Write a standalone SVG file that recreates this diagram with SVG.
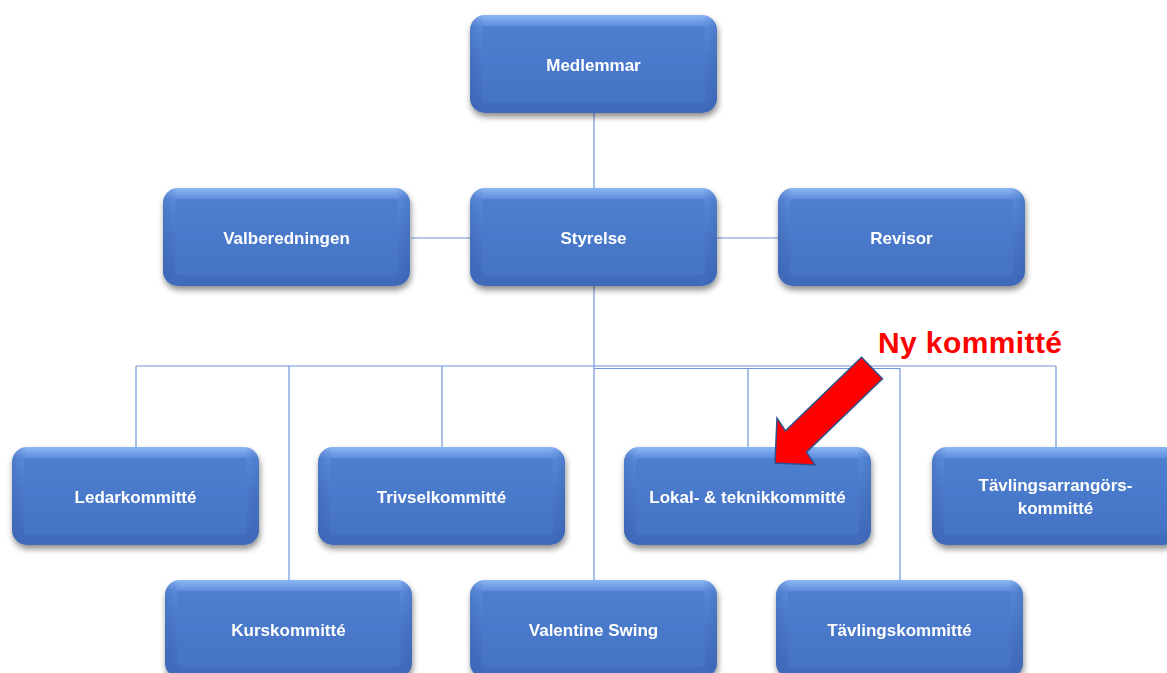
<svg xmlns="http://www.w3.org/2000/svg" width="1167" height="673" viewBox="0 0 1167 673">
<defs>
<linearGradient id="outerG" x1="0" y1="0" x2="0" y2="1">
<stop offset="0" stop-color="#8cb6f5"/>
<stop offset="0.12" stop-color="#5a8bdb"/>
<stop offset="0.5" stop-color="#4a78c9"/>
<stop offset="1" stop-color="#3f6ab9"/>
</linearGradient>
<linearGradient id="innerG" x1="0" y1="0" x2="0" y2="1">
<stop offset="0" stop-color="#4e7fcf"/>
<stop offset="1" stop-color="#4573c5"/>
</linearGradient>
<linearGradient id="sideG" x1="0" y1="0" x2="1" y2="0">
<stop offset="0" stop-color="#3a64b0" stop-opacity="0.4"/>
<stop offset="0.06" stop-color="#3a64b0" stop-opacity="0"/>
<stop offset="0.94" stop-color="#3a64b0" stop-opacity="0"/>
<stop offset="1" stop-color="#3a64b0" stop-opacity="0.4"/>
</linearGradient>
<filter id="sh" x="-10%" y="-10%" width="125%" height="130%">
<feGaussianBlur in="SourceAlpha" stdDeviation="3"/>
<feOffset dx="1" dy="4" result="b"/>
<feComponentTransfer><feFuncA type="linear" slope="0.45"/></feComponentTransfer>
<feMerge><feMergeNode/><feMergeNode in="SourceGraphic"/></feMerge>
</filter>
</defs>
<style>
.outer{fill:url(#outerG);}
.side{fill:url(#sideG);}
.inner{fill:url(#innerG);}
.lbl{font-family:"Liberation Sans",Arial,sans-serif;font-weight:bold;font-size:17px;fill:#ffffff;text-anchor:middle;}
.conn{stroke:#7096dc;stroke-width:1.2;fill:none;}
.ny{font-family:"Liberation Sans",Arial,sans-serif;font-weight:bold;font-size:30px;fill:#ff0000;}
</style>
<rect width="1167" height="673" fill="#ffffff"/>

<g id="connectors">
<line class="conn" x1="594" y1="112" x2="594" y2="188"/>
<line class="conn" x1="411" y1="238" x2="470" y2="238"/>
<line class="conn" x1="717" y1="238" x2="778" y2="238"/>
<line class="conn" x1="594" y1="286" x2="594" y2="580"/>
<line class="conn" x1="136" y1="366" x2="1056" y2="366"/>
<line class="conn" x1="594" y1="368.5" x2="900" y2="368.5"/>
<line class="conn" x1="136" y1="366" x2="136" y2="447"/>
<line class="conn" x1="289" y1="366" x2="289" y2="580"/>
<line class="conn" x1="442" y1="366" x2="442" y2="447"/>
<line class="conn" x1="748" y1="368" x2="748" y2="447"/>
<line class="conn" x1="900" y1="368" x2="900" y2="580"/>
<line class="conn" x1="1056" y1="366" x2="1056" y2="447"/>
</g>

<g id="medlemmar" transform="translate(470,15)" filter="url(#sh)">
<rect class="outer" width="247" height="98" rx="15"/><rect class="side" width="247" height="98" rx="15"/>
<rect class="inner" x="12" y="11" width="223" height="76" rx="4"/>
<text class="lbl" x="123.5" y="56">Medlemmar</text>
</g>
<g id="valberedningen" transform="translate(163,188)" filter="url(#sh)">
<rect class="outer" width="247" height="98" rx="15"/><rect class="side" width="247" height="98" rx="15"/>
<rect class="inner" x="12" y="11" width="223" height="76" rx="4"/>
<text class="lbl" x="123.5" y="56">Valberedningen</text>
</g>
<g id="styrelse" transform="translate(470,188)" filter="url(#sh)">
<rect class="outer" width="247" height="98" rx="15"/><rect class="side" width="247" height="98" rx="15"/>
<rect class="inner" x="12" y="11" width="223" height="76" rx="4"/>
<text class="lbl" x="123.5" y="56">Styrelse</text>
</g>
<g id="revisor" transform="translate(778,188)" filter="url(#sh)">
<rect class="outer" width="247" height="98" rx="15"/><rect class="side" width="247" height="98" rx="15"/>
<rect class="inner" x="12" y="11" width="223" height="76" rx="4"/>
<text class="lbl" x="123.5" y="56">Revisor</text>
</g>
<g id="ledarkommitte" transform="translate(12,447)" filter="url(#sh)">
<rect class="outer" width="247" height="98" rx="15"/><rect class="side" width="247" height="98" rx="15"/>
<rect class="inner" x="12" y="11" width="223" height="76" rx="4"/>
<text class="lbl" x="123.5" y="56">Ledarkommitté</text>
</g>
<g id="trivselkommitte" transform="translate(318,447)" filter="url(#sh)">
<rect class="outer" width="247" height="98" rx="15"/><rect class="side" width="247" height="98" rx="15"/>
<rect class="inner" x="12" y="11" width="223" height="76" rx="4"/>
<text class="lbl" x="123.5" y="56">Trivselkommitté</text>
</g>
<g id="lokalkommitte" transform="translate(624,447)" filter="url(#sh)">
<rect class="outer" width="247" height="98" rx="15"/><rect class="side" width="247" height="98" rx="15"/>
<rect class="inner" x="12" y="11" width="223" height="76" rx="4"/>
<text class="lbl" x="123.5" y="56">Lokal- &amp; teknikkommitté</text>
</g>
<g id="tavlingsarrangorskommitte" transform="translate(932,447)" filter="url(#sh)">
<rect class="outer" width="247" height="98" rx="15"/><rect class="side" width="247" height="98" rx="15"/>
<rect class="inner" x="12" y="11" width="223" height="76" rx="4"/>
<text class="lbl" x="123.5" y="44">Tävlingsarrangörs-</text>
<text class="lbl" x="123.5" y="67">kommitté</text>
</g>
<g id="kurskommitte" transform="translate(165,580)" filter="url(#sh)">
<rect class="outer" width="247" height="98" rx="15"/><rect class="side" width="247" height="98" rx="15"/>
<rect class="inner" x="12" y="11" width="223" height="76" rx="4"/>
<text class="lbl" x="123.5" y="56">Kurskommitté</text>
</g>
<g id="valentineswing" transform="translate(470,580)" filter="url(#sh)">
<rect class="outer" width="247" height="98" rx="15"/><rect class="side" width="247" height="98" rx="15"/>
<rect class="inner" x="12" y="11" width="223" height="76" rx="4"/>
<text class="lbl" x="123.5" y="56">Valentine Swing</text>
</g>
<g id="tavlingskommitte" transform="translate(776,580)" filter="url(#sh)">
<rect class="outer" width="247" height="98" rx="15"/><rect class="side" width="247" height="98" rx="15"/>
<rect class="inner" x="12" y="11" width="223" height="76" rx="4"/>
<text class="lbl" x="123.5" y="56">Tävlingskommitté</text>
</g>

<g id="ny-kommitte">
<text class="ny" x="878" y="353" textLength="184">Ny kommitté</text>
<polygon points="861.5,357.3 882.5,378.7 806.5,452.2 815,465 775,463 777,418 785.5,430.8" fill="#ff0000" stroke="#2f528f" stroke-width="1.5" stroke-linejoin="miter"/>
</g>
</svg>
